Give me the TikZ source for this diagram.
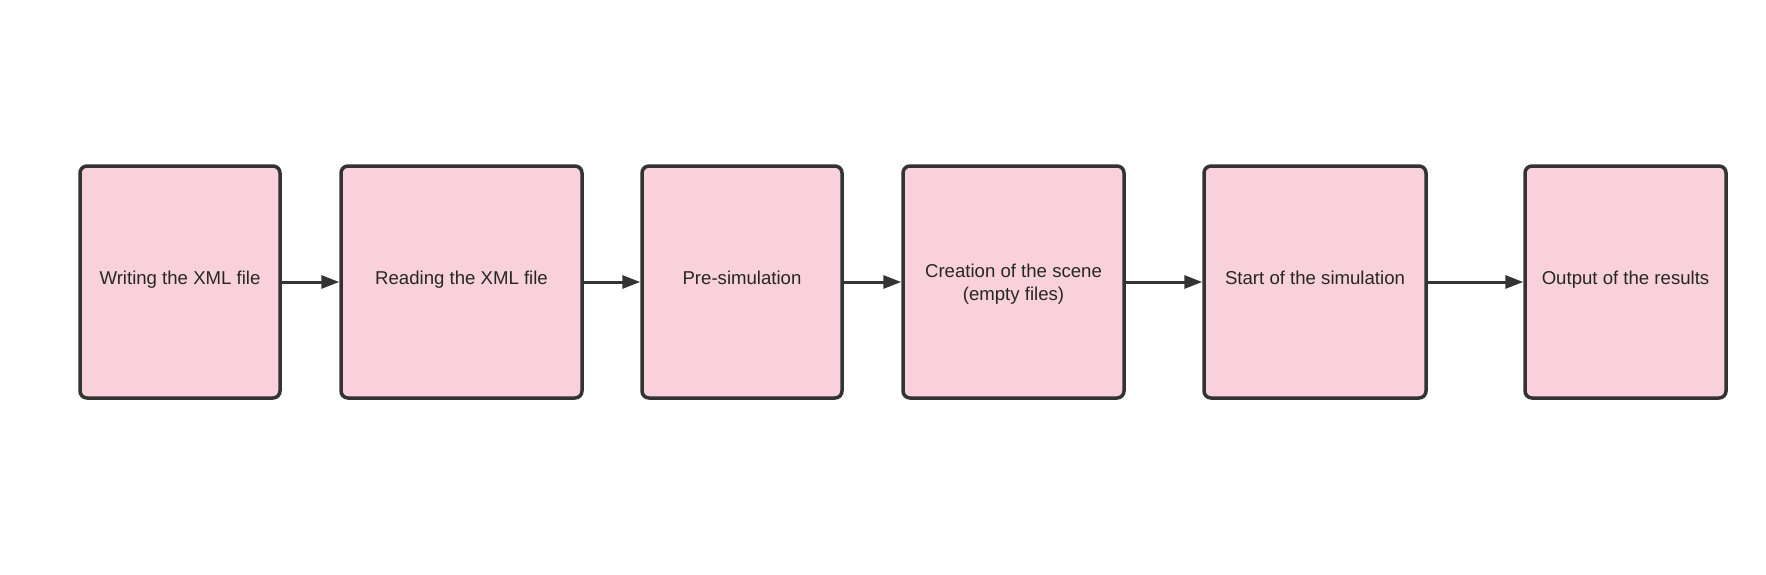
\documentclass[tikz,border=0pt]{standalone}
\usepackage{fontspec}
\setmainfont{Liberation Sans}
\usetikzlibrary{arrows.meta}
\definecolor{boxfill}{HTML}{F9D1DC}
\definecolor{boxline}{HTML}{333333}
\begin{document}
\begin{tikzpicture}[x=1pt,y=-1pt,
  boxtext/.style={inner sep=0pt, align=center,
    font=\fontsize{18.6pt}{23pt}\selectfont, text=black!85},
  stepbox/.style={boxtext, draw=boxline, fill=boxfill, line width=3.5pt, rounded corners=7pt,
    minimum height=232pt},
  oneline/.style={text height=13pt, text depth=8pt},
  conn/.style={draw=boxline, line width=3pt, -{Triangle[length=18pt,width=13pt]}}]
\useasboundingbox (0,0) rectangle (1766,575);
\node[stepbox, oneline, minimum width=200pt] (b1) at (180,282) {Writing the XML file};
\node[stepbox, oneline, minimum width=241pt] (b2) at (461.5,282) {Reading the XML file};
\node[stepbox, oneline, minimum width=200pt] (b3) at (742,282) {Pre-simulation};
\node[stepbox, minimum width=221pt] (b4) at (1013.5,282) {};
\node[boxtext] (t4) at ([yshift=-2pt]b4.center) {Creation of the scene\\(empty files)};
\node[stepbox, oneline, minimum width=222pt] (b5) at (1315,282) {Start of the simulation};
\node[stepbox, oneline, minimum width=201pt] (b6) at (1625.5,282) {Output of the results};
\draw[conn] (b1) -- (b2);
\draw[conn] (b2) -- (b3);
\draw[conn] (b3) -- (b4);
\draw[conn] (b4) -- (b5);
\draw[conn] (b5) -- (b6);
\end{tikzpicture}
\end{document}
